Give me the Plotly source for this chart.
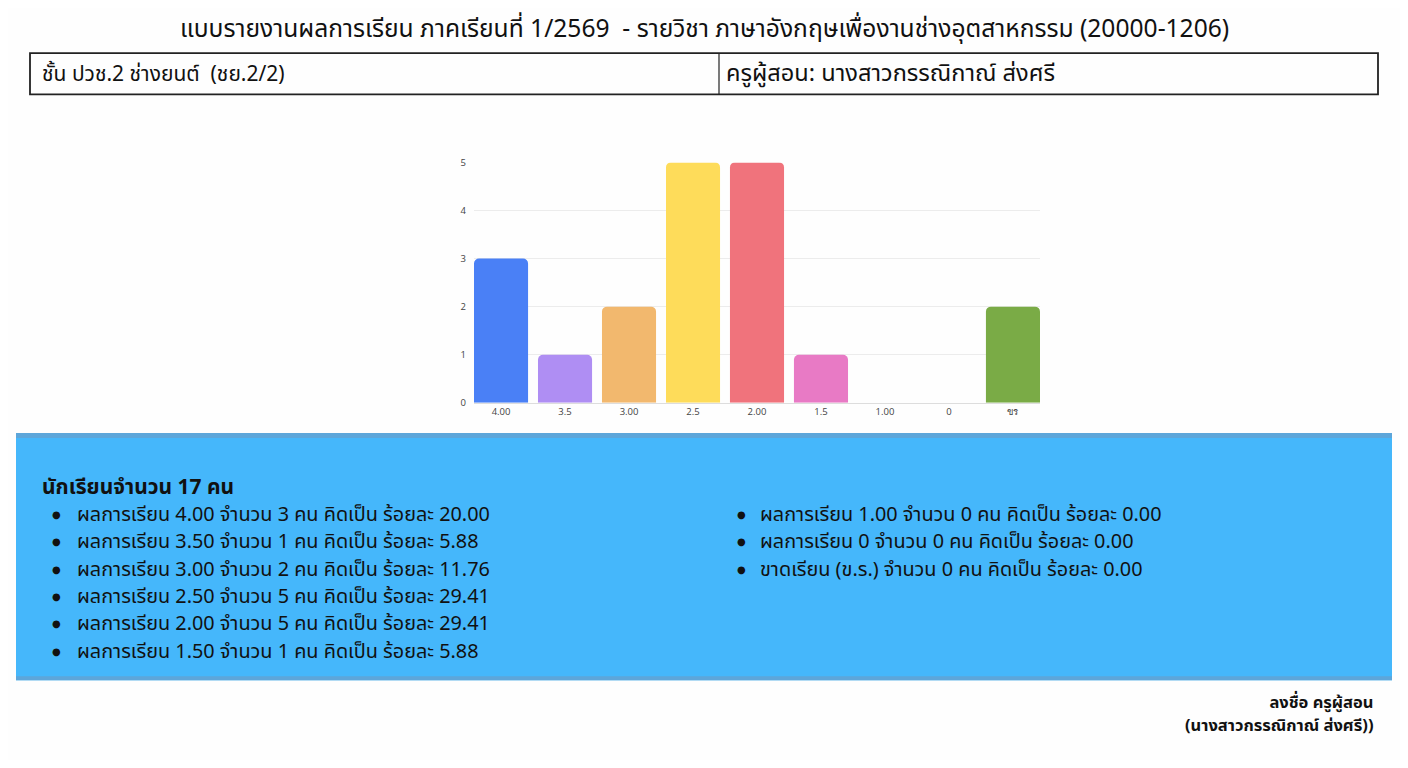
import plotly.graph_objects as go

# page body has an 8px margin; design in window pixels and map into the figure
OFF = 8
FW, FH = 1392, 752
# empirical vertical calibration of the photographed page
YS, YC = 0.981, 7.0

# ---- data ----
grade_labels = ["4.00", "3.5", "3.00", "2.5", "2.00", "1.5", "1.00", "0", "ขร"]
grade_counts = [3, 1, 2, 5, 5, 1, 0, 0, 2]
bar_colors = ["#4a80f6", "#af8ef3", "#f2b86e", "#fedc5a", "#f0737c",
              "#e87ac5", "#c9cbcf", "#36a2eb", "#7aab46"]

list_grades = ["4.00", "3.50", "3.00", "2.50", "2.00", "1.50", "1.00", "0"]
list_counts = [3, 1, 2, 5, 5, 1, 0, 0]
list_pcts = ["20.00", "5.88", "11.76", "29.41", "29.41", "5.88", "0.00", "0.00"]
absent_count = 0
absent_pct = "0.00"
total_students = 17

title_text = "แบบรายงานผลการเรียน ภาคเรียนที่ 1/2569  - รายวิชา ภาษาอังกฤษเพื่องานช่างอุตสาหกรรม (20000-1206)"
class_text = "ชั้น ปวช.2 ช่างยนต์  (ชย.2/2)"
teacher_text = "ครูผู้สอน: นางสาวกรรณิกาณ์ ส่งศรี"
sign1 = "ลงชื่อ ครูผู้สอน"
sign2 = "(นางสาวกรรณิกาณ์ ส่งศรี))"

FONT = "Tahoma, 'Noto Sans Thai', 'Noto Sans', 'DejaVu Sans', sans-serif"


def px(x):
    return (x - OFF) / FW


def py(y):
    yd = (y - YC) / YS
    return 1 - (yd - OFF) / FH


fig = go.Figure()
fig.add_trace(go.Bar(
    x=grade_labels, y=grade_counts,
    marker=dict(color=bar_colors, line=dict(width=0)),
    hoverinfo="x+y",
))

shapes = []
# header box
shapes.append(dict(type="rect", xref="paper", yref="paper",
                   x0=px(30), x1=px(1378), y0=py(94), y1=py(53),
                   line=dict(color="#222", width=1.8), layer="above"))
shapes.append(dict(type="line", xref="paper", yref="paper",
                   x0=px(719), x1=px(719), y0=py(94), y1=py(53),
                   line=dict(color="#222", width=1.2)))
# blue panel
shapes.append(dict(type="rect", xref="paper", yref="paper",
                   x0=px(16), x1=px(1392), y0=py(679), y1=py(432),
                   fillcolor="#45b7fb", line=dict(width=0), layer="below"))
shapes.append(dict(type="rect", xref="paper", yref="paper",
                   x0=px(16), x1=px(1392), y0=py(437), y1=py(432),
                   fillcolor="#5da6da", line=dict(width=0), layer="below"))
shapes.append(dict(type="rect", xref="paper", yref="paper",
                   x0=px(16), x1=px(1392), y0=py(679), y1=py(675),
                   fillcolor="#5da6da", line=dict(width=0), layer="below"))

ann = []


def add_text(text, x, y, size, anchor="left", bold=False, align="left"):
    t = f"<b>{text}</b>" if bold else text
    ann.append(dict(text=t, x=px(x), y=py(y), xref="paper", yref="paper",
                    showarrow=False, xanchor=anchor, yanchor="middle", align=align,
                    font=dict(size=size, color="#111", family=FONT)))


add_text(title_text, 704, 29, 24.6, "center")
add_text(class_text, 40, 74, 21)
add_text(teacher_text, 724, 74, 23.6)
add_text(f"นักเรียนจำนวน {total_students} คน", 40, 487, 21, bold=True)

lines_all = [f"ผลการเรียน {g} จำนวน {c} คน คิดเป็น ร้อยละ {p}"
             for g, c, p in zip(list_grades, list_counts, list_pcts)]
lines_left = lines_all[:6]
lines_right = lines_all[6:] + [f"ขาดเรียน (ข.ร.) จำนวน {absent_count} คน คิดเป็น ร้อยละ {absent_pct}"]

BASE = 21.0     # sets the line pitch of the list blocks
TXT = "font-size:19.85px"
DOT = "<span style='font-size:10px'>●</span>"


def block(lines, style=TXT):
    return "<br>".join(f"<span style='{style}'>{t}</span>" for t in lines)


def dots(n):
    return "<br>".join(DOT for _ in range(n))


# left column: rows 515 .. 649, right column: rows 515 .. 568
add_text(dots(len(lines_left)), 56, 582, BASE, "center")
add_text(block(lines_left), 75, 582, BASE)
add_text(dots(len(lines_right)), 741, 541.5, BASE, "center")
add_text(block(lines_right), 758, 541.5, BASE)

# signature: rows 702 and 724
add_text(block([sign1, sign2], "font-size:16.5px"), 1375, 713, 17.6, "right",
         bold=True, align="right")

fig.update_layout(
    width=FW, height=FH, autosize=False,
    margin=dict(l=0, r=0, t=0, b=0),
    paper_bgcolor="#fefefe", plot_bgcolor="rgba(0,0,0,0)",
    showlegend=False,
    bargap=0.155,
    barcornerradius=5,
    xaxis=dict(domain=[px(474), px(1040)], range=[-0.4225, 8.4225],
               showgrid=False, showline=True,
               linecolor="#dddddd", linewidth=1, ticks="", fixedrange=True,
               tickfont=dict(size=9.5, color="#444", family="'Open Sans', sans-serif")),
    yaxis=dict(domain=[py(402), py(162)], range=[0, 5], dtick=1,
               showgrid=True, gridcolor="#ececec", gridwidth=1,
               zeroline=False, showline=False, ticks="", ticklabelstandoff=7,
               tickfont=dict(size=9.5, color="#444", family="'Open Sans', sans-serif")),
    shapes=shapes,
    annotations=ann,
)

fig.write_html("out.html")
